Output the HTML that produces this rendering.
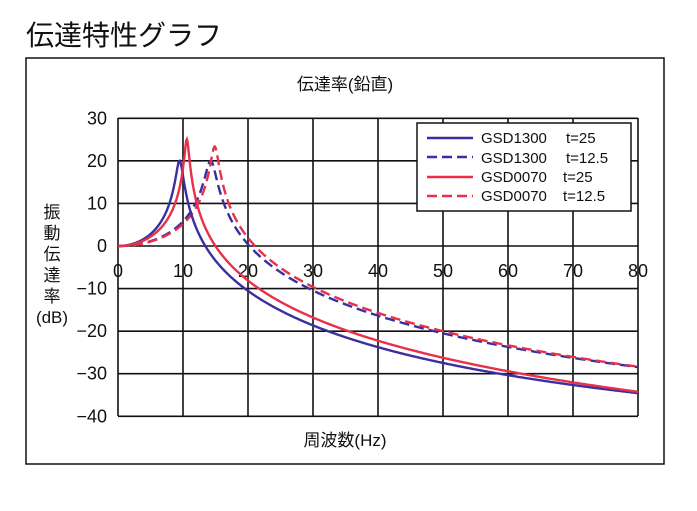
<!DOCTYPE html>
<html><head><meta charset="utf-8"><style>
body{margin:0;background:#fff;}
svg text{font-family:"Liberation Sans","Noto Sans CJK JP",sans-serif;fill:#111;}
</style></head><body>
<svg id="s" width="697" height="506" viewBox="0 0 697 506" xmlns="http://www.w3.org/2000/svg">
<text x="26" y="45" font-size="28">伝達特性グラフ</text>
<rect x="26" y="58" width="638" height="406" fill="none" stroke="#111" stroke-width="1.5"/>
<text x="345" y="90" font-size="17" text-anchor="middle">伝達率(鉛直)</text>
<g id="grid" stroke="#111" stroke-width="1.6"></g>
<g id="lbl" font-size="18"></g>
<g id="curves" fill="none" stroke-width="2.4"></g>
<rect x="417" y="123" width="214" height="88" fill="#fff" stroke="#111" stroke-width="1.5"/>
<g font-size="15">
<line x1="427" y1="138" x2="473" y2="138" stroke="#3a2fa0" stroke-width="2.6"/>
<text x="481" y="143">GSD1300</text><text x="566" y="143">t=25</text>
<line x1="427" y1="157" x2="473" y2="157" stroke="#3a2fa0" stroke-width="2.6" stroke-dasharray="10,5"/>
<text x="481" y="163">GSD1300</text><text x="566" y="163">t=12.5</text>
<line x1="427" y1="177" x2="473" y2="177" stroke="#e8304a" stroke-width="2.4"/>
<text x="481" y="182">GSD0070</text><text x="563" y="182">t=25</text>
<line x1="427" y1="196" x2="473" y2="196" stroke="#e8304a" stroke-width="2.4" stroke-dasharray="10,5"/>
<text x="481" y="201">GSD0070</text><text x="563" y="201">t=12.5</text>
</g>
<text x="345" y="446" font-size="17" text-anchor="middle">周波数(Hz)</text>
<g font-size="17" text-anchor="middle">
<text x="52" y="218">振</text><text x="52" y="239">動</text><text x="52" y="260">伝</text><text x="52" y="281">達</text><text x="52" y="302">率</text><text x="52" y="323">(dB)</text>
</g>
</svg>
<script>
var NS="http://www.w3.org/2000/svg";
function X(f){return 118+f*6.5;}function Y(d){return 246-d*4.257;}
var g=document.getElementById('grid'),l=document.getElementById('lbl');
function el(p,t,a,txt){var e=document.createElementNS(NS,t);for(var k in a)e.setAttribute(k,a[k]);if(txt!=null)e.textContent=txt;p.appendChild(e);return e;}
for(var i=0;i<=8;i++){el(g,'line',{x1:X(i*10),y1:118,x2:X(i*10),y2:416});
 el(l,'text',{x:X(i*10),y:277,'text-anchor':'middle'},String(i*10));}
for(var j=-4;j<=3;j++){el(g,'line',{x1:118,y1:Y(j*10),x2:638,y2:Y(j*10)});
 el(l,'text',{x:107,y:Y(j*10)+6,'text-anchor':'end'},j==0?'0':(j<0?'−'+(-j*10):String(j*10)));}
var c=document.getElementById('curves');
function curve(fn,z,col,dash){var d='';for(var f=0;f<=80;f+=0.1){var r=f/fn,n=1+Math.pow(2*z*r,2),den=Math.pow(1-r*r,2)+Math.pow(2*z*r,2);var db=10*Math.log10(n/den);d+=(f==0?'M':'L')+X(f).toFixed(1)+','+Y(db).toFixed(1);}
 var a={d:d,stroke:col};if(dash)a['stroke-dasharray']='10,5';el(c,'path',a);}
curve(14.3,0.05,'#3a2fa0',1);
curve(14.9,0.034,'#e8304a',1);
curve(9.5,0.05,'#3a2fa0',0);
curve(10.6,0.028,'#e8304a',0);
</script>
</body></html>
